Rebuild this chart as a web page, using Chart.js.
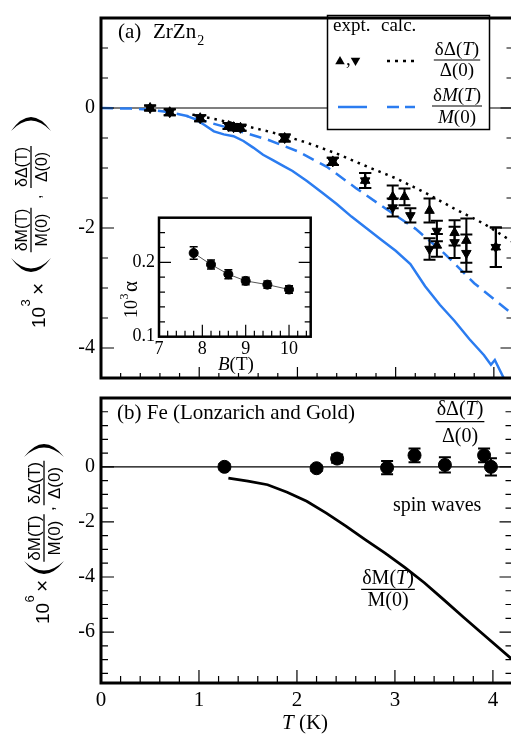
<!DOCTYPE html>
<html><head><meta charset="utf-8">
<script src="https://cdn.jsdelivr.net/npm/chart.js@4.4.1/dist/chart.umd.min.js"></script>
<style>
html,body{margin:0;padding:0;background:#fff;}
#wrap{position:relative;width:511px;height:736px;overflow:hidden;background:#fff;}
canvas{position:absolute;display:block;}
</style></head><body>
<div id="wrap">
<canvas id="cA" width="520" height="396" style="left:0;top:0;width:520px;height:396px"></canvas>
<canvas id="cB" width="520" height="356" style="left:0;top:380px;width:520px;height:356px"></canvas>
<canvas id="cI" width="230" height="190" style="left:100px;top:200px;width:230px;height:190px"></canvas>
</div>
<script>
// ===== DATA =====
// shared temperature axis
const xTicks = [0.2,0.4,0.6,0.8,1,1.2,1.4,1.6,1.8,2,2.2,2.4,2.6,2.8,3,3.2,3.4,3.6,3.8,4];
const xMajor = [1,2,3,4];
const xLabelVals = [0,1,2,3,4];
const xLabelText = ['0','1','2','3','4'];

// panel (a) ZrZn2
const yTicksA = [1,0.5,0,-0.5,-1,-1.5,-2,-2.5,-3,-3.5,-4];
const yMajorA = [0,-2,-4];
const yLabelValsA = [0,-2,-4];
const yLabelTextA = ['0','-2','-4'];

const upT   = [0.50,0.70,1.01,1.30,1.35,1.42,1.87,2.36,2.69,2.97,3.09,3.345,3.42,3.60,3.72,4.02];
const upV   = [0.00,-0.07,-0.17,-0.30,-0.32,-0.33,-0.50,-0.89,-1.21,-1.48,-1.48,-1.71,-2.29,-2.08,-2.21,-2.32];
const upErr = [0.04,0.05,0.05,0.05,0.05,0.05,0.06,0.06,0.125,0.19,0.14,0.20,0.19,0.21,0.37,0.33];
const downT   = [0.50,0.70,1.01,1.30,1.35,1.42,1.87,2.36,2.69,2.97,3.15,3.345,3.42,3.60,3.72,4.02];
const downV   = [0.00,-0.07,-0.17,-0.30,-0.32,-0.33,-0.50,-0.89,-1.21,-1.66,-1.79,-2.35,-2.05,-2.24,-2.42,-2.32];
const downErr = [0.04,0.05,0.05,0.05,0.05,0.05,0.06,0.06,0.125,0.15,0.12,0.18,0.17,0.26,0.31,0.33];

const gapCalcT = [0.93,1.2,1.5,1.8,2.1,2.4,2.7,3.0,3.3,3.6,3.9,4.2];
const gapCalcV = [-0.11,-0.20,-0.31,-0.43,-0.58,-0.76,-0.97,-1.17,-1.41,-1.68,-1.93,-2.24];
const magCalcT = [0,0.3,0.5,0.7,0.9,1.1,1.4,1.7,2.0,2.3,2.6,2.9,3.2,3.5,3.8,4.2];
const magCalcV = [0,-0.01,-0.03,-0.07,-0.14,-0.24,-0.38,-0.53,-0.72,-0.98,-1.34,-1.68,-2.01,-2.43,-2.92,-3.45];
const magExptT = [0.87,0.95,1.05,1.15,1.25,1.35,1.45,1.55,1.65,1.75,1.85,1.95,2.1,2.25,2.4,2.55,2.7,2.85,3.0,3.15,3.3,3.45,3.6,3.75,3.9,3.97,4.01,4.1];
const magExptV = [-0.13,-0.18,-0.28,-0.39,-0.44,-0.47,-0.55,-0.66,-0.78,-0.87,-0.96,-1.05,-1.22,-1.41,-1.60,-1.81,-2.00,-2.19,-2.38,-2.60,-2.97,-3.28,-3.55,-3.85,-4.12,-4.28,-4.20,-4.50];

// inset
const bField   = [7.8,8.2,8.6,9.0,9.5,10.0];
const alphaV   = [0.2125,0.197,0.184,0.175,0.170,0.1635];
const alphaErr = [0.0085,0.006,0.006,0.005,0.005,0.005];
const xTicksI = [7.2,7.4,7.6,7.8,8,8.2,8.4,8.6,8.8,9,9.2,9.4,9.6,9.8,10,10.2,10.4];
const xMajorI = [8,9,10];
const xLabelValsI = [7,8,9,10];
const xLabelTextI = ['7','8','9','10'];
const yTicksI = [0.12,0.14,0.16,0.18,0.2,0.22,0.24];
const yMajorI = [0.2];
const yLabelValsI = [0.1,0.2];
const yLabelTextI = ['0.1','0.2'];

// panel (b) Fe
const yTicksB = [2,1.5,1,0.5,0,-0.5,-1,-1.5,-2,-2.5,-3,-3.5,-4,-4.5,-5,-5.5,-6,-6.5,-7,-7.5];
const yMajorB = [0,-2,-4,-6];
const yLabelValsB = [0,-2,-4,-6];
const yLabelTextB = ['0','-2','-4','-6'];
const feT   = [1.26,2.20,2.41,2.92,3.20,3.51,3.91,3.98];
const feV   = [0.00,-0.05,0.30,-0.03,0.42,0.07,0.42,0.00];
const feErr = [0.1,0.1,0.15,0.24,0.25,0.28,0.25,0.31];
const swT = [1.30,1.5,1.7,1.9,2.1,2.3,2.5,2.7,2.9,3.1,3.3,3.5,3.7,3.9,4.2];
const swV = [-0.41,-0.52,-0.65,-0.92,-1.25,-1.68,-2.15,-2.65,-3.13,-3.65,-4.21,-4.83,-5.46,-6.08,-7.0];

// ===== HELPERS =====
const SERIF = '"Liberation Serif","Times New Roman",serif';
const SANS = '"Liberation Sans",Arial,sans-serif';
const BLUE = '#2b7cf0';
const pts = (xs, ys) => xs.map((x, i) => ({x, y: ys[i]}));
const lab = (vals, texts) => (v) => { const i = vals.findIndex(t => Math.abs(t - v) < 1e-9); return i >= 0 ? texts[i] : ''; };

function rich(ctx, parts, x, y, align, size, fam) {
  let w = 0;
  const ws = parts.map(p => { ctx.font = (p[1] ? 'italic ' : '') + size + 'px ' + fam; const m = ctx.measureText(p[0]).width; w += m; return m; });
  let sx = align === 'center' ? x - w / 2 : (align === 'right' ? x - w : x);
  ctx.textAlign = 'left';
  parts.forEach((p, i) => { ctx.font = (p[1] ? 'italic ' : '') + size + 'px ' + fam; ctx.fillText(p[0], sx, y); sx += ws[i]; });
  return w;
}
function frac(ctx, num, den, cx, by, size, fam, gu, gd, lw) {
  ctx.textBaseline = 'alphabetic';
  const w1 = rich(ctx, num, cx, by - gu, 'center', size, fam);
  const w2 = rich(ctx, den, cx, by + gd, 'center', size, fam);
  const bw = Math.max(w1, w2) + 2;
  ctx.lineWidth = lw || 1.2;
  ctx.beginPath(); ctx.moveTo(cx - bw / 2, by); ctx.lineTo(cx + bw / 2, by); ctx.stroke();
}
function paren(ctx, u, h, open, w, th) {
  ctx.beginPath();
  if (open) {
    ctx.moveTo(u + w, -h);
    ctx.quadraticCurveTo(u - w, 0, u + w, h);
    ctx.quadraticCurveTo(u + 2 * th - w, 0, u + w, -h);
  } else {
    ctx.moveTo(u, -h);
    ctx.quadraticCurveTo(u + 2 * w, 0, u, h);
    ctx.quadraticCurveTo(u + 2 * w - 2 * th, 0, u, -h);
  }
  ctx.fill();
}
function yCompound(ctx, cx, yb, sup, p) {
  ctx.save();
  ctx.translate(cx, yb); ctx.rotate(-Math.PI / 2);
  ctx.fillStyle = '#000'; ctx.strokeStyle = '#000'; ctx.textBaseline = 'alphabetic'; ctx.textAlign = 'left';
  ctx.font = p.fs + 'px ' + SANS; ctx.fillText('10', p.u10, p.v10);
  ctx.font = Math.round(p.fs * 0.68) + 'px ' + SANS; ctx.fillText(sup, p.uSup, p.v10 - 15);
  ctx.font = (p.fs + 2) + 'px ' + SANS; ctx.fillText('\u00d7', p.uX, p.v10);
  paren(ctx, p.uOpen, p.ph, true, p.pw, 3.5);
  frac(ctx, [['\u03b4M(T)']], [['M(0)']], p.uF1, 0, p.ffs, SANS, 4, 16, 1.3);
  ctx.font = p.ffs + 'px ' + SANS; ctx.fillText(',', p.uComma, 10);
  frac(ctx, [['\u03b4\u0394(T)']], [['\u0394(0)']], p.uF2, 0, p.ffs, SANS, 4, 16, 1.3);
  paren(ctx, p.uClose, p.ph, false, p.pw, 3.5);
  ctx.restore();
}
function drawTicks(chart, cfg) {
  const ctx = chart.ctx, a = chart.chartArea, xs = chart.scales.x, ys = chart.scales.y;
  ctx.save(); ctx.strokeStyle = '#000'; ctx.lineWidth = 1.2; ctx.setLineDash([]);
  ctx.beginPath();
  cfg.xt.forEach(v => { const p = xs.getPixelForValue(v); const L = cfg.xm.includes(v) ? cfg.xMaj : cfg.xMin; ctx.moveTo(p, a.bottom); ctx.lineTo(p, a.bottom - L); });
  cfg.yt.forEach(v => { const p = ys.getPixelForValue(v); const L = cfg.ym.includes(v) ? cfg.yMaj : cfg.yMin; ctx.moveTo(a.left, p); ctx.lineTo(a.left + L, p); ctx.moveTo(a.right, p); ctx.lineTo(a.right - L, p); });
  ctx.stroke();
  ctx.lineWidth = cfg.fw; ctx.strokeRect(a.left, a.top, a.right - a.left, a.bottom - a.top);
  ctx.restore();
}
function zeroLine(chart) {
  const ctx = chart.ctx, a = chart.chartArea, y = chart.scales.y.getPixelForValue(0);
  ctx.save(); ctx.strokeStyle = '#000'; ctx.lineWidth = 1.2;
  ctx.beginPath(); ctx.moveTo(a.left, y); ctx.lineTo(a.right, y); ctx.stroke(); ctx.restore();
}
const errPlugin = {
  id: 'errbars',
  afterDatasetsDraw(chart) {
    const ctx = chart.ctx, xs = chart.scales.x, ys = chart.scales.y;
    ctx.save(); ctx.strokeStyle = '#000'; ctx.setLineDash([]);
    chart.data.datasets.forEach(ds => {
      if (!ds.errs) return;
      ctx.lineWidth = ds.errLW || 2; const cap = ds.cap || 6;
      ds.data.forEach((p, i) => {
        const e = ds.errs[i]; if (!e) return;
        const x = xs.getPixelForValue(p.x), y1 = ys.getPixelForValue(p.y + e), y2 = ys.getPixelForValue(p.y - e);
        ctx.beginPath(); ctx.moveTo(x, y1); ctx.lineTo(x, y2);
        ctx.moveTo(x - cap, y1); ctx.lineTo(x + cap, y1); ctx.moveTo(x - cap, y2); ctx.lineTo(x + cap, y2);
        ctx.stroke();
      });
    });
    ctx.restore();
  }
};
function yAxis(min, max, vals, texts, width, pad, size) {
  return {
    type: 'linear', min, max, position: 'left',
    grid: {display: false, drawTicks: false}, border: {display: false},
    afterBuildTicks: s => { s.ticks = vals.map(v => ({value: v})); },
    afterFit: s => { s.width = width; },
    ticks: {padding: pad, autoSkip: false, color: '#000', font: {family: SERIF, size}, callback: lab(vals, texts)}
  };
}
function xAxis(min, max, vals, texts, height, pad, size, show) {
  return {
    type: 'linear', min, max, position: 'bottom',
    grid: {display: false, drawTicks: false}, border: {display: false},
    afterBuildTicks: s => { s.ticks = vals.map(v => ({value: v})); },
    afterFit: s => { s.height = height; },
    ticks: {display: show, padding: pad, autoSkip: false, maxRotation: 0, minRotation: 0, color: '#000', font: {family: SERIF, size}, callback: lab(vals, texts)}
  };
}
const base = {animation: false, responsive: false, events: [], plugins: {legend: {display: false}, tooltip: {enabled: false}}};
function tri(ctx, x, y, r, up) {
  ctx.beginPath();
  const s = up ? 1 : -1;
  ctx.moveTo(x, y - s * r); ctx.lineTo(x + r * 0.866, y + s * r * 0.5); ctx.lineTo(x - r * 0.866, y + s * r * 0.5); ctx.closePath(); ctx.fill();
}

// ===== PANEL (a) =====
const decoA = {
  id: 'decoA',
  beforeDatasetsDraw(chart) { zeroLine(chart); },
  afterDatasetsDraw(chart) {
    const ctx = chart.ctx;
    ctx.save();
    // legend box
    ctx.fillStyle = '#fff'; ctx.fillRect(327, 15, 163, 114);
    ctx.strokeStyle = '#000'; ctx.lineWidth = 1.5; ctx.setLineDash([]); ctx.strokeRect(327.5, 15.5, 162, 114);
    ctx.fillStyle = '#000'; ctx.textBaseline = 'alphabetic';
    rich(ctx, [['expt.']], 333, 31, 'left', 19, SERIF);
    rich(ctx, [['calc.']], 381, 31, 'left', 19, SERIF);
    tri(ctx, 340, 61.5, 5.5, true);
    rich(ctx, [[',']], 346, 65, 'left', 19, SERIF);
    tri(ctx, 355.5, 60.5, 5.5, false);
    ctx.lineWidth = 2.5; ctx.setLineDash([3, 5]); ctx.beginPath(); ctx.moveTo(387, 61); ctx.lineTo(414, 61); ctx.stroke();
    ctx.setLineDash([]);
    frac(ctx, [['\u03b4\u0394('], ['T', 1], [')']], [['\u0394(0)']], 457, 60, 19, SERIF, 5, 16, 1.2);
    ctx.strokeStyle = BLUE; ctx.lineWidth = 2.5;
    ctx.beginPath(); ctx.moveTo(338, 107); ctx.lineTo(367, 107); ctx.stroke();
    ctx.setLineDash([12, 6]); ctx.beginPath(); ctx.moveTo(387, 107); ctx.lineTo(415, 107); ctx.stroke();
    ctx.setLineDash([]); ctx.strokeStyle = '#000';
    frac(ctx, [['\u03b4'], ['M', 1], ['('], ['T', 1], [')']], [['M', 1], ['(0)']], 457, 106, 19, SERIF, 5, 17, 1.2);
    // panel title
    rich(ctx, [['(a)']], 118, 38, 'left', 21, SERIF);
    const w = rich(ctx, [['ZrZn']], 153, 38, 'left', 21, SERIF);
    rich(ctx, [['2']], 153 + w + 1, 45, 'left', 14, SERIF);
    ctx.restore();
  },
  afterDraw(chart) {
    drawTicks(chart, {xt: xTicks, xm: xMajor, xMaj: 11, xMin: 5, yt: yTicksA, ym: yMajorA, yMaj: 13, yMin: 7, fw: 3});
    yCompound(chart.ctx, 31, 330, '3', {u10: 2, v10: 14, uSup: 23.5, uX: 35, uOpen: 58, uF1: 100, uComma: 131, uF2: 163, uClose: 199, ph: 20, pw: 14, fs: 19, ffs: 16});
  }
};
new Chart(document.getElementById('cA'), {
  type: 'scatter',
  data: {datasets: [
    {data: pts(upT, upV), errs: upErr, pointStyle: 'triangle', pointRadius: 5.5, pointBackgroundColor: '#000', pointBorderColor: '#000', pointBorderWidth: 1, showLine: false, order: 0},
    {data: pts(downT, downV), errs: downErr, pointStyle: 'triangle', pointRotation: 180, pointRadius: 5.5, pointBackgroundColor: '#000', pointBorderColor: '#000', pointBorderWidth: 1, showLine: false, order: 1},
    {data: pts(gapCalcT, gapCalcV), showLine: true, borderColor: '#000', borderWidth: 2.5, borderDash: [2.5, 5], pointRadius: 0, order: 2},
    {data: pts(magCalcT, magCalcV), showLine: true, borderColor: BLUE, borderWidth: 2.5, borderDash: [12, 7], pointRadius: 0, order: 3},
    {data: pts(magExptT, magExptV), showLine: true, borderColor: BLUE, borderWidth: 2.5, pointRadius: 0, order: 4}
  ]},
  options: Object.assign({}, base, {
    layout: {padding: {left: 0, top: 6, right: 6, bottom: 8}},
    scales: {
      x: xAxis(0, 4.2, xLabelVals, xLabelText, 0, 0, 20, false),
      y: yAxis(-4.5, 1.5, yLabelValsA, yLabelTextA, 101, 6, 20)
    }
  }),
  plugins: [decoA, errPlugin]
});

// ===== INSET =====
const decoI = {
  id: 'decoI',
  beforeDraw(chart) {
    const a = chart.chartArea, ctx = chart.ctx;
    ctx.save(); ctx.fillStyle = '#fff'; ctx.fillRect(a.left, a.top, a.right - a.left, a.bottom - a.top); ctx.restore();
  },
  afterDraw(chart) {
    drawTicks(chart, {xt: xTicksI, xm: xMajorI, xMaj: 12, xMin: 6, yt: yTicksI, ym: yMajorI, yMaj: 12, yMin: 6, fw: 2.5});
    const ctx = chart.ctx;
    ctx.save(); ctx.fillStyle = '#000'; ctx.textBaseline = 'alphabetic';
    rich(ctx, [['B', 1], ['(T)']], 118, 170, 'left', 19, SERIF);
    ctx.translate(37, 118); ctx.rotate(-Math.PI / 2);
    ctx.font = '18px ' + SERIF; ctx.textAlign = 'left'; ctx.fillText('10', 0, 0);
    ctx.font = '12px ' + SERIF; ctx.fillText('3', 18.5, -9);
    ctx.font = '21px ' + SERIF; ctx.fillText('\u03b1', 26, 0);
    ctx.restore();
  }
};
new Chart(document.getElementById('cI'), {
  type: 'scatter',
  data: {datasets: [
    {data: pts(bField, alphaV), errs: alphaErr, errLW: 1.5, cap: 4, showLine: true, borderColor: '#555', borderWidth: 1, pointRadius: 4.5, pointBackgroundColor: '#000', pointBorderColor: '#000'}
  ]},
  options: Object.assign({}, base, {
    layout: {padding: {left: 0, top: 17.7, right: 19.3, bottom: 0}},
    scales: {
      x: xAxis(7, 10.5, xLabelValsI, xLabelTextI, 53.3, 2, 18, true),
      y: yAxis(0.1, 0.26, yLabelValsI, yLabelTextI, 59, 4, 18)
    }
  }),
  plugins: [decoI, errPlugin]
});

// ===== PANEL (b) =====
const decoB = {
  id: 'decoB',
  beforeDatasetsDraw(chart) { zeroLine(chart); },
  afterDatasetsDraw(chart) {
    const ctx = chart.ctx;
    ctx.save(); ctx.fillStyle = '#000'; ctx.strokeStyle = '#000'; ctx.textBaseline = 'alphabetic';
    rich(ctx, [['(b) Fe (Lonzarich and Gold)']], 117, 39, 'left', 21, SERIF);
    frac(ctx, [['\u03b4\u0394('], ['T', 1], [')']], [['\u0394(0)']], 460, 41.7, 20, SERIF, 7, 20, 1.2);
    rich(ctx, [['spin waves']], 393, 131, 'left', 20, SERIF);
    frac(ctx, [['\u03b4M('], ['T', 1], [')']], [['M(0)']], 388, 209.3, 20, SERIF, 5, 17, 1.2);
    rich(ctx, [['T', 1], [' (K)']], 282, 349, 'left', 21, SERIF);
    ctx.restore();
  },
  afterDraw(chart) {
    drawTicks(chart, {xt: xTicks, xm: xMajor, xMaj: 13, xMin: 7, yt: yTicksB, ym: yMajorB, yMaj: 13, yMin: 7, fw: 3});
    yCompound(chart.ctx, 44, 246, '6', {u10: 2, v10: 5, uSup: 23.5, uX: 34, uOpen: 52, uF1: 88, uComma: 115, uF2: 143, uClose: 169, ph: 20, pw: 13, fs: 19, ffs: 17});
  }
};
new Chart(document.getElementById('cB'), {
  type: 'scatter',
  data: {datasets: [
    {data: pts(feT, feV), errs: feErr, cap: 6, pointRadius: 6.5, pointBackgroundColor: '#000', pointBorderColor: '#000', showLine: false, order: 0},
    {data: pts(swT, swV), showLine: true, borderColor: '#000', borderWidth: 2.8, pointRadius: 0, order: 1}
  ]},
  options: Object.assign({}, base, {
    layout: {padding: {left: 0, top: 8, right: 6, bottom: 0}},
    scales: {
      x: xAxis(0, 4.2, xLabelVals, xLabelText, 53, 5, 21, true),
      y: yAxis(-7.85, 2.5, yLabelValsB, yLabelTextB, 101, 6, 20)
    }
  }),
  plugins: [decoB, errPlugin]
});
</script>
</body></html>
